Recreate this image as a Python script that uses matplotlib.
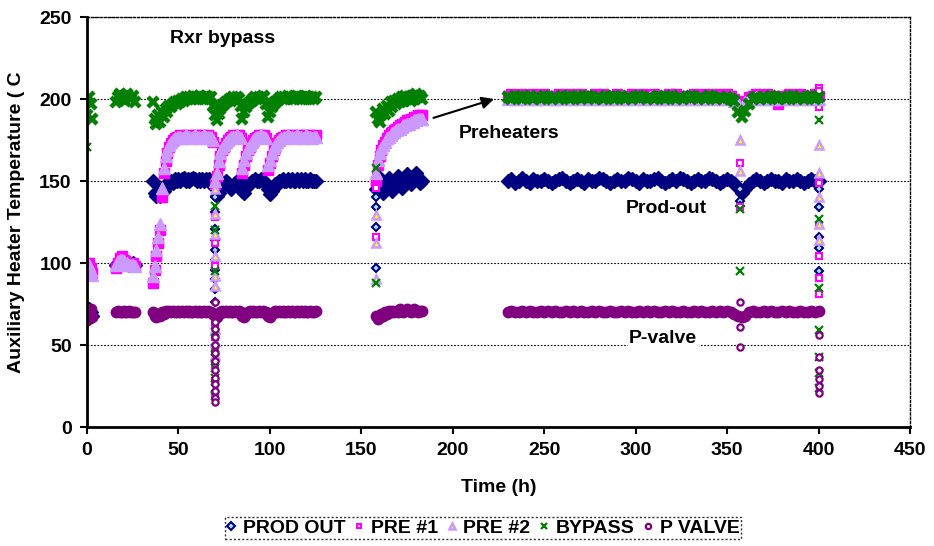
import matplotlib
matplotlib.use("Agg")
import matplotlib.pyplot as plt

plt.rcParams['font.family'] = ['Liberation Sans', 'DejaVu Sans']
plt.rcParams['font.weight'] = 'bold'

# --- logged samples (h), one time list shared by all five channels ---
t_a = [0, 1, 2, 3]
t_b = list(range(16, 27))
t_c = list(range(36, 126))
t_d = list(range(158, 184))
t_e = list(range(230, 401, 2))
time = t_a + t_b + t_c + t_d + t_e

prod_out = ([66, 72, 70, 68]
            + [99, 100, 101, 101, 100, 100, 100, 99, 99, 100, 99]
            + [150, 143, 141, 144, 141, 146, 144, 148, 147, 149,
               150, 149, 151, 150, 151, 150, 151, 152, 150, 151,
               150, 151, 152, 151, 150, 151, 150, 151, 150, 151,
               150, 151, 150, 148, 146, 141, 143, 146, 148, 149,
               150, 149, 147, 145, 147, 149, 150, 150, 149, 144,
               143, 146, 148, 149, 150, 150, 151, 150, 150, 151,
               150, 150, 148, 145, 142, 144, 146, 148, 149, 150,
               150, 151, 150, 150, 151, 150, 151, 150, 150, 151,
               150, 151, 150, 151, 150, 150, 151, 150, 150, 150]
            + [145, 150, 152, 147, 143, 146, 150, 152, 148, 144, 147, 150, 153,
               149, 146, 150, 152, 154, 151, 148, 150, 153, 155, 152, 149, 150]
            + [150, 151, 149, 150, 152, 150, 149, 151, 150, 150,
               151, 150, 149, 150, 151, 152, 150, 149, 150, 151,
               150, 149, 151, 150, 150, 152, 151, 150, 149, 150,
               151, 150, 150, 152, 151, 150, 149, 151, 150, 150,
               151, 152, 150, 149, 150, 151, 150, 152, 151, 150,
               149, 150, 151, 150, 150, 152, 151, 150, 149, 150,
               151, 150, 149, 146, 143, 145, 148, 150, 151, 150,
               149, 150, 151, 150, 150, 149, 151, 150, 150, 151,
               150, 149, 150, 151, 150, 150])

pre_1 = ([93, 100, 97, 94]
         + [97, 100, 103, 104, 102, 101, 100, 99, 98, 100, 98]
         + [88, 96, 104, 112, 120, 140, 155, 162, 167, 171,
            173, 175, 176, 177, 177, 178, 177, 177, 178, 177,
            178, 177, 177, 178, 178, 177, 177, 178, 178, 177,
            178, 177, 177, 174, 148, 153, 160, 165, 169, 171,
            173, 175, 176, 177, 178, 177, 178, 178, 176, 155,
            160, 165, 169, 171, 173, 175, 176, 177, 178, 178,
            177, 178, 176, 157, 161, 165, 169, 171, 173, 175,
            176, 177, 177, 178, 178, 177, 178, 177, 177, 178,
            178, 177, 177, 178, 178, 177, 178, 177, 177, 178]
         + [150, 160, 165, 169, 172, 174, 176, 178, 179, 180, 181, 182, 183,
            184, 185, 185, 186, 187, 187, 188, 188, 189, 189, 190, 190, 190]
         + [202, 203, 201, 202, 203, 202, 201, 203, 202, 202,
            203, 202, 201, 202, 203, 202, 202, 203, 201, 202,
            203, 202, 202, 201, 203, 202, 203, 202, 202, 201,
            203, 202, 201, 202, 203, 202, 202, 203, 201, 202,
            203, 202, 202, 201, 203, 202, 203, 202, 202, 201,
            202, 203, 201, 202, 203, 202, 202, 203, 201, 202,
            203, 202, 200, 198, 196, 199, 201, 202, 203, 202,
            202, 203, 201, 202, 197, 202, 202, 203, 201, 202,
            203, 202, 202, 201, 203, 202])

pre_2 = ([95, 99, 96, 93]
         + [99, 101, 102, 102, 101, 100, 100, 99, 99, 99, 98]
         + [92, 98, 108, 116, 124, 146, 158, 165, 169, 172,
            174, 175, 176, 176, 177, 177, 176, 177, 178, 177,
            177, 176, 177, 178, 177, 177, 176, 177, 178, 177,
            177, 176, 177, 175, 150, 155, 162, 167, 170, 172,
            174, 175, 176, 177, 177, 177, 178, 177, 176, 158,
            163, 167, 170, 172, 174, 175, 176, 177, 177, 178,
            177, 177, 176, 160, 163, 167, 170, 172, 174, 175,
            176, 176, 177, 177, 178, 177, 177, 176, 177, 178,
            177, 177, 176, 177, 178, 177, 177, 176, 177, 177]
         + [155, 163, 167, 170, 172, 174, 176, 177, 178, 179, 180, 181, 182,
            182, 183, 184, 184, 185, 185, 186, 186, 187, 187, 188, 188, 188]
         + [200, 201, 200, 200, 201, 200, 201, 200, 200, 201,
            200, 201, 200, 200, 201, 200, 201, 200, 200, 201,
            200, 201, 200, 200, 201, 200, 201, 200, 200, 201,
            200, 201, 200, 200, 201, 200, 201, 200, 200, 201,
            200, 201, 200, 200, 201, 200, 201, 200, 200, 201,
            200, 201, 200, 200, 201, 200, 201, 200, 200, 201,
            200, 201, 199, 197, 195, 198, 200, 200, 201, 200,
            200, 201, 200, 200, 201, 200, 201, 200, 200, 201,
            200, 201, 200, 200, 201, 200])

bypass = ([190, 201, 197, 188]
          + [198, 201, 203, 200, 202, 199, 203, 201, 200, 202, 198]
          + [198, 188, 185, 190, 186, 192, 189, 194, 192, 196,
             195, 197, 198, 197, 199, 198, 200, 199, 201, 200,
             201, 200, 202, 200, 201, 200, 202, 201, 200, 202,
             201, 200, 201, 196, 190, 187, 191, 194, 196, 197,
             198, 199, 200, 199, 201, 200, 201, 200, 196, 188,
             192, 195, 197, 198, 199, 200, 201, 200, 201, 200,
             202, 201, 197, 189, 192, 195, 197, 198, 199, 200,
             201, 200, 201, 200, 202, 201, 200, 201, 200, 202,
             201, 200, 201, 200, 202, 201, 200, 201, 200, 201]
          + [192, 188, 186, 190, 194, 191, 196, 193, 198, 195, 199, 197, 200,
             198, 201, 199, 202, 200, 201, 199, 202, 200, 203, 201, 202, 200]
          + [201, 200, 202, 201, 200, 201, 202, 200, 201, 200,
             202, 201, 200, 201, 200, 202, 201, 200, 201, 202,
             200, 201, 202, 201, 200, 201, 200, 202, 201, 200,
             201, 202, 200, 201, 200, 201, 202, 201, 200, 201,
             200, 202, 201, 200, 201, 202, 200, 201, 200, 201,
             202, 201, 200, 201, 200, 202, 201, 200, 201, 200,
             201, 200, 199, 192, 189, 193, 197, 200, 201, 200,
             201, 200, 202, 201, 200, 201, 200, 201, 202, 200,
             201, 200, 201, 202, 200, 201])

p_valve = ([65, 70, 72, 67]
           + [70, 71, 70, 70, 71, 70, 70, 71, 70, 70, 70]
           + [70, 68, 67, 69, 68, 70, 69, 71, 70, 71,
              70, 71, 70, 70, 71, 70, 71, 70, 71, 70,
              71, 70, 70, 71, 70, 71, 70, 70, 71, 70,
              71, 70, 70, 69, 68, 67, 69, 70, 71, 70,
              71, 70, 71, 70, 70, 71, 70, 71, 70, 68,
              67, 69, 70, 71, 70, 71, 70, 70, 71, 70,
              71, 70, 70, 68, 67, 69, 70, 71, 70, 71,
              70, 71, 70, 70, 71, 70, 71, 70, 70, 71,
              70, 71, 70, 71, 70, 70, 71, 70, 70, 71]
           + [68, 66, 67, 69, 68, 70, 69, 71, 70, 71, 70, 71, 70,
              72, 71, 70, 71, 72, 71, 70, 71, 72, 71, 70, 71, 71]
           + [70, 71, 70, 70, 71, 70, 71, 70, 70, 71,
              70, 71, 70, 71, 70, 70, 71, 70, 71, 70,
              71, 70, 70, 71, 70, 71, 70, 70, 71, 70,
              70, 71, 70, 71, 70, 70, 71, 70, 71, 70,
              71, 70, 70, 71, 70, 71, 70, 70, 71, 70,
              70, 71, 70, 71, 70, 70, 71, 70, 71, 70,
              71, 70, 69, 68, 67, 68, 70, 71, 70, 70,
              71, 70, 71, 70, 70, 71, 70, 71, 70, 70,
              71, 70, 70, 71, 70, 71])

# --- transient readings during shutdowns / restarts ---
prod_spk_t = [70, 70, 70, 70, 70, 70, 70, 70, 70, 70,
              158, 158, 158, 158, 357, 357, 357, 400, 400, 400, 400, 400]
prod_spk = [140, 131, 121, 114, 108, 102, 96, 90, 84, 76,
            140, 134, 122, 97, 145, 138, 135, 145, 134, 116, 109, 95]

pre1_spk_t = [70, 70, 70, 70, 70, 70, 70, 70, 70, 70,
              158, 158, 158, 357, 357, 400, 400, 400, 400, 400, 400, 400, 400]
pre1_spk = [147, 128, 112, 98, 62, 55, 46, 38, 28, 20,
            153, 146, 116, 161, 134, 207, 205, 195, 149, 123, 104, 91, 81]

pre2_spk_t = [70, 70, 70, 70, 70, 70, 70, 70, 70,
              158, 158, 158, 357, 357, 357, 400, 400, 400, 400, 400]
pre2_spk = [145, 130, 118, 104, 92, 86, 60, 52, 44,
            129, 112, 90, 175, 156, 196, 172, 155, 140, 124, 114]

bypass_spk_t = [0, 70, 70, 70, 70, 70, 70, 70, 70, 70, 70,
                158, 158, 357, 357, 400, 400, 400, 400, 400, 400, 400]
bypass_spk = [171, 135, 120, 95, 58, 48, 42, 36, 30, 24, 19,
              158, 88, 95, 133, 187, 127, 85, 59, 43, 33, 24]

pvalve_spk_t = [70, 70, 70, 70, 70, 70, 70, 70, 70, 70, 70, 70, 70,
                357, 357, 357, 400, 400, 400, 400, 400, 400]
pvalve_spk = [76, 64, 60, 55, 50, 45, 40, 35, 30, 26, 22, 18, 15,
              76, 61, 49, 56, 43, 35, 29, 25, 21]

fig = plt.figure(figsize=(9.34, 5.46), dpi=100)
ax = fig.add_axes([0.0931, 0.2179, 0.8812, 0.7509])

NAVY, MAG, LAV, GRN, PUR = '#000080', '#ff00ff', '#cc99ff', '#008000', '#800080'

# dense logged bands (solid) and the isolated transient points (open markers)
ax.plot(time, prod_out, ls='none', marker='D', ms=7.5, mfc=NAVY, mec=NAVY, mew=1)
ax.plot(prod_spk_t, prod_spk, ls='none', marker='D', ms=4.5,
        mfc='#a6e4f7', mec=NAVY, mew=1.5, label='PROD OUT')
ax.plot(time, pre_1, ls='none', marker='s', ms=7, mfc=MAG, mec=MAG, mew=1)
ax.plot(pre1_spk_t, pre1_spk, ls='none', marker='s', ms=4,
        mfc='white', mec=MAG, mew=1.5, label='PRE #1')
ax.plot(time, pre_2, ls='none', marker='^', ms=8.5, mfc=LAV, mec=LAV, mew=1)
ax.plot(pre2_spk_t, pre2_spk, ls='none', marker='^', ms=5.5,
        mfc='#ffff00', mec=LAV, mew=1.8, label='PRE #2')
ax.plot(time, bypass, ls='none', marker='x', ms=7.5, mec=GRN, mew=3.2)
ax.plot(bypass_spk_t, bypass_spk, ls='none', marker='x', ms=5.5,
        mec=GRN, mew=1.6, label='BYPASS')
ax.plot(time, p_valve, ls='none', marker='o', ms=7.5, mfc=PUR, mec=PUR, mew=1)
ax.plot(pvalve_spk_t, pvalve_spk, ls='none', marker='o', ms=4.5,
        mfc='white', mec=PUR, mew=1.6, label='P VALVE')

ax.set_xlim(0, 450)
ax.set_ylim(0, 250)
ax.set_xticks(range(0, 451, 50))
ax.set_yticks(range(0, 251, 50))
ax.yaxis.grid(True, color='black', linestyle=(0, (1.5, 1.5)), linewidth=0.8)
ax.set_axisbelow(True)
for s in ['left', 'bottom']:
    ax.spines[s].set_linewidth(2)
for s in ['top', 'right']:
    ax.spines[s].set_linestyle((0, (1.5, 1.5)))
    ax.spines[s].set_linewidth(1)
ax.tick_params(direction='out', length=5, width=1.5, labelsize=14, pad=6)

ax.set_xlabel('Time (h)', fontsize=14, fontweight='bold', labelpad=14)
ax.set_ylabel('Auxiliary Heater Temperature ( C', fontsize=14, fontweight='bold', labelpad=10)

ax.text(74, 237, 'Rxr bypass', fontsize=14, fontweight='bold', ha='center', va='center')
ax.text(231, 179, 'Preheaters', fontsize=14, fontweight='bold', ha='center', va='center')
ax.annotate('', xy=(224, 200.5), xytext=(188, 188),
            arrowprops=dict(arrowstyle='-|>', color='black', lw=1.5, mutation_scale=18))
ax.text(317, 133.5, 'Prod-out', fontsize=14, fontweight='bold', ha='center', va='center')
ax.text(315, 54, 'P-valve', fontsize=14, fontweight='bold', ha='center', va='center',
        bbox=dict(facecolor='white', edgecolor='none', pad=1))

leg = fig.legend(loc='center', bbox_to_anchor=(483 / 934, 18 / 546), ncol=5,
                 prop={'size': 14, 'weight': 'bold'}, handlelength=0.5,
                 handletextpad=0.35, columnspacing=0.45, borderpad=0.1,
                 fancybox=False, markerscale=0.85)
leg.get_frame().set_edgecolor('black')
leg.get_frame().set_linestyle((0, (1.5, 1.5)))
leg.get_frame().set_linewidth(1)

fig.savefig('out.png', dpi=100)
